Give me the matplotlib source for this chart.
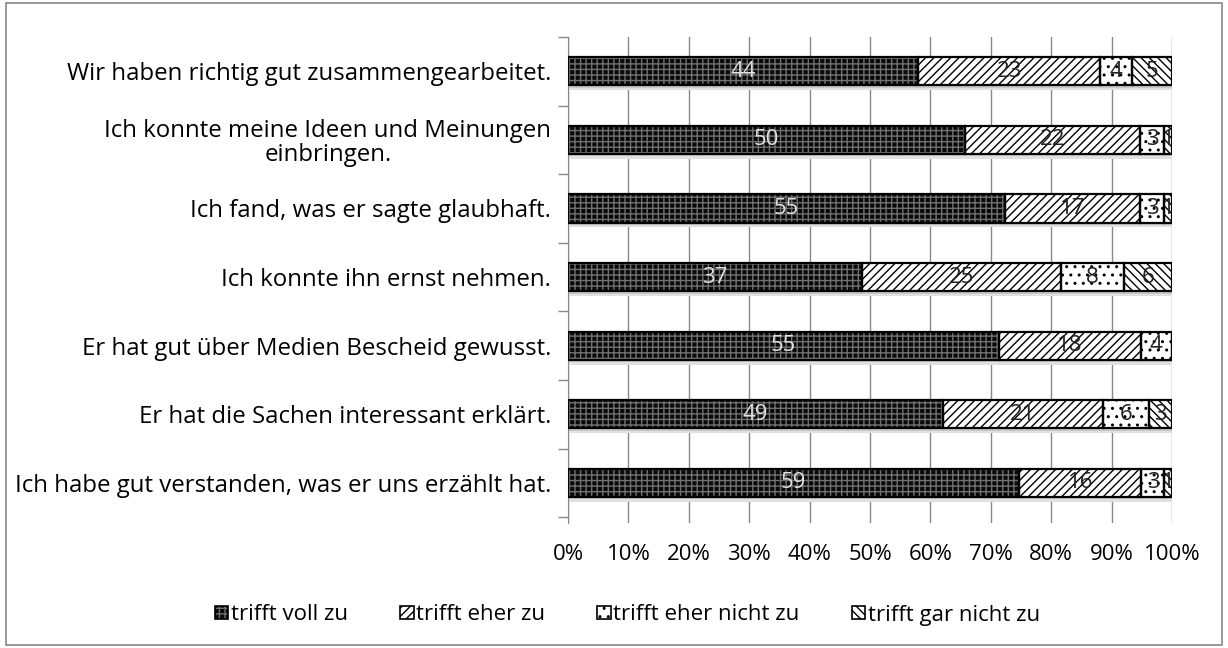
import matplotlib
matplotlib.use("Agg")
import matplotlib.pyplot as plt
from matplotlib.patches import Rectangle, Patch
from matplotlib.legend_handler import HandlerBase
import numpy as np

plt.rcParams['font.family'] = ['Open Sans', 'DejaVu Sans']
plt.rcParams['hatch.linewidth'] = 1.0

categories = [
    "Wir haben richtig gut zusammengearbeitet.",
    "Ich konnte meine Ideen und Meinungen\neinbringen.",
    "Ich fand, was er sagte glaubhaft.",
    "Ich konnte ihn ernst nehmen.",
    "Er hat gut über Medien Bescheid gewusst.",
    "Er hat die Sachen interessant erklärt.",
    "Ich habe gut verstanden, was er uns erzählt hat.",
]
series_names = ["trifft voll zu", "trifft eher zu", "trifft eher nicht zu", "trifft gar nicht zu"]
voll = [44, 50, 55, 37, 55, 49, 59]
eher = [23, 22, 17, 25, 18, 21, 16]
eher_nicht = [4, 3, 3, 8, 4, 6, 3]
gar_nicht = [5, 1, 1, 6, 0, 3, 1]
x_ticklabels = ["0%", "10%", "20%", "30%", "40%", "50%", "60%", "70%", "80%", "90%", "100%"]

data = np.array([voll, eher, eher_nicht, gar_nicht], dtype=float)
totals = data.sum(axis=0)
pct = data / totals * 100

styles = [
    dict(face="#0a0a0a", hatch="+++", hcolor="#707070", tcolor="#e0e0e0"),
    dict(face="white", hatch="////", hcolor="black", tcolor="#222222"),
    dict(face="white", hatch="..", hcolor="black", tcolor="#222222"),
    dict(face="white", hatch="\\\\\\\\", hcolor="black", tcolor="#222222"),
]

FS = 16
FS_Y = 17.3

fig = plt.figure(figsize=(12.28, 6.48), dpi=100)
fig.patches.append(Rectangle((6/1228, 3/648), 1216/1228, 642/648, transform=fig.transFigure,
                             fill=False, edgecolor="#888888", linewidth=1.2))
ax = fig.add_axes([568/1228, 1 - 523/648, 604/1228, 486/648])

y = np.arange(len(categories))
h = 0.41
# soft shadow under each full bar
ax.barh(y + 0.07, 100, height=h, color="#e0e0e0", linewidth=0, zorder=2)
ax.barh(y + 0.035, 100, height=h, color="#c8c8c8", linewidth=0, zorder=2)
left = np.zeros(len(categories))
for i, st in enumerate(styles):
    vals = pct[i]
    ax.barh(y, vals, left=left, height=h, color=st["face"], hatch=st["hatch"],
            edgecolor=st["hcolor"], linewidth=0, zorder=3)
    ax.barh(y, vals, left=left, height=h, fill=False, edgecolor="black", linewidth=1.6, zorder=4)
    for j in range(len(categories)):
        if data[i, j] > 0:
            ax.text(left[j] + vals[j] / 2, y[j], f"{int(data[i, j])}", ha="center", va="center",
                    fontsize=FS, color=st["tcolor"], zorder=5)
    left += vals

ax.set_xlim(0, 100)
ax.set_ylim(len(categories) - 0.5 + 0.085, -0.5)
ax.set_xticks(np.arange(0, 101, 10))
ax.set_xticklabels(x_ticklabels, fontsize=FS)
ax.set_yticks(y)
ax.set_yticklabels(categories, fontsize=FS_Y, multialignment="center", linespacing=1.0)
ax.set_yticks(np.arange(-0.5, len(categories), 1), minor=True)
ax.tick_params(axis="y", which="major", length=0, pad=12)
ax.tick_params(axis="y", which="minor", length=7, color="#888888", width=1)
ax.tick_params(axis="x", length=0, pad=15)
ax.grid(axis="x", color="#888888", linewidth=1, zorder=0)
ax.set_axisbelow(True)
for s in ["top", "right", "bottom"]:
    ax.spines[s].set_visible(False)
ax.spines["left"].set_color("#888888")


class HatchBox(HandlerBase):
    def create_artists(self, legend, orig_handle, xdescent, ydescent, width, height, fontsize, trans):
        s = min(width, height)
        x0 = -xdescent + (width - s) / 2
        y0 = -ydescent + (height - s) / 2
        fill = Rectangle((x0, y0), s, s, facecolor=orig_handle.get_facecolor(),
                         hatch=orig_handle.get_hatch(), edgecolor=orig_handle.get_edgecolor(),
                         linewidth=0, transform=trans)
        edge = Rectangle((x0, y0), s, s, fill=False, edgecolor="black", linewidth=1.2, transform=trans)
        return [fill, edge]


handles = [Patch(facecolor=st["face"], hatch=st["hatch"], edgecolor=st["hcolor"]) for st in styles]
leg = fig.legend(handles, series_names, loc="center", bbox_to_anchor=(0.511, 1 - 615/648), ncol=4,
                 frameon=False, fontsize=FS, handlelength=0.6, handleheight=0.6, columnspacing=2.35,
                 handletextpad=0.12, handler_map={Patch: HatchBox()})

fig.savefig("out.png", dpi=100)
